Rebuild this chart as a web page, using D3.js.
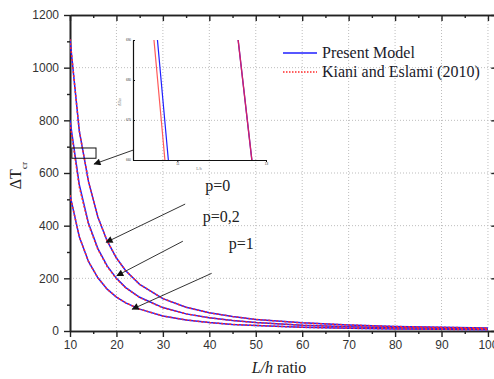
<!DOCTYPE html>
<html>
<head>
<meta charset="utf-8">
<script src="https://cdn.jsdelivr.net/npm/d3@7"></script>
<style>
    body { margin: 0; background: #fff; }
    svg { display: block; }
    .tick text { font-family: "Liberation Sans", Arial, sans-serif; fill: #333; }
</style>
</head>
<body>
<svg id="SVG_CONTAINER_Buckling" width="494" height="379"></svg>
<script>
// L/h ratio samples and critical temperature difference for each gradient index p
const lhRatio   = [10, 12, 14, 16, 18, 20, 22, 25, 30, 35, 40, 45, 50, 60, 70, 80, 90, 100];
const presentP0 = [1108, 760, 566, 433, 342, 277, 229, 177, 123, 90, 69, 55, 44, 31, 23, 17, 14, 11];
const kianiP0   = [1108, 760, 566, 433, 342, 277, 229, 177, 123, 90, 69, 55, 44, 31, 23, 17, 14, 11];
const presentP02 = [800, 556, 408, 313, 247, 200, 165, 128, 89, 65, 50, 40, 32, 22, 16, 12.5, 10, 8];
const kianiP02   = [790, 547, 404, 310, 245, 198, 164, 127, 88, 65, 50, 40, 32, 22, 16, 12.5, 10, 8];
const presentP1 = [516, 358, 263, 202, 159, 129, 107, 83, 57, 42, 32, 25, 21, 14, 10.5, 8, 6.4, 5.2];
const kianiP1   = [516, 358, 263, 202, 159, 129, 107, 83, 57, 42, 32, 25, 21, 14, 10.5, 8, 6.4, 5.2];

const xTicks = [10, 20, 30, 40, 50, 60, 70, 80, 90, 100];
const yTicks = [0, 200, 400, 600, 800, 1000, 1200];
const seriesNames = ["Present Model", "Kiani and Eslami (2010)"];

// annotations, in data units
const pLabels = [
    {text: "p=0", x: 39.1, y: 532},
    {text: "p=0,2", x: 38.6, y: 414},
    {text: "p=1", x: 44.2, y: 311}
];
const pArrows = [
    {from: [34.8, 482], to: [17.8, 337]},
    {from: [34.3, 341], to: [20.1, 210]},
    {from: [40.5, 219], to: [23.4, 83]},
    {from: [23.6, 687], to: [15.2, 634]}
];
const zoomBox = {x: [10.4, 15.6], y: [656, 695]};
const insetX = [10.35, 13.35];
const insetY = [660, 690];

const width = 494, height = 379;
const MARGIN = {LEFT: 70, TOP: 15, BOTTOM: 48};

let svg = d3.select("#SVG_CONTAINER_Buckling");
let chart = svg.append("g").attr("class", "chart");

//** SCALES *****************************************
let xScale = d3.scaleLinear()
    .domain([10, 102])
    .range([MARGIN.LEFT, MARGIN.LEFT + 92 * 4.644]);

let yScale = d3.scaleLinear()
    .domain([0, 1200])
    .range([height - MARGIN.BOTTOM, MARGIN.TOP]);

let x0 = xScale.range()[0], x1 = xScale.range()[1];
let y0 = yScale.range()[0], y1 = yScale.range()[1];

//** GRID *****************************************
chart.append("g")
    .selectAll("line")
    .data(xTicks.slice(1))
    .enter()
    .append("line")
    .attr("x1", d => xScale(d)).attr("x2", d => xScale(d))
    .attr("y1", y0).attr("y2", y1)
    .attr("stroke", "#bdbdbd")
    .attr("stroke-dasharray", "1,2");

chart.append("g")
    .selectAll("line")
    .data(yTicks.slice(1, -1))
    .enter()
    .append("line")
    .attr("x1", x0).attr("x2", x1)
    .attr("y1", d => yScale(d)).attr("y2", d => yScale(d))
    .attr("stroke", "#bdbdbd")
    .attr("stroke-dasharray", "1,2");

//** AXES *****************************************
let xMinor = d3.range(15, 100, 10);
let yMinor = d3.range(100, 1200, 200);

function drawAxis(axisGen, transform, labels)
{
    let g = chart.append("g")
        .attr("transform", transform)
        .call(axisGen);
    g.select(".domain").attr("stroke", "#222").attr("stroke-width", 1.6);
    g.selectAll(".tick line").attr("stroke", "#222").attr("stroke-width", 1.4);
    if(!labels) g.selectAll(".tick text").remove();
    g.selectAll(".tick text").attr("font-size", "12px");
    return g;
}

drawAxis(d3.axisBottom(xScale).tickValues(xTicks).tickSize(6).tickPadding(3).tickSizeOuter(0).tickFormat(d3.format("d")),
    "translate(0," + y0 + ")", true);
drawAxis(d3.axisBottom(xScale).tickValues(xMinor).tickSize(3).tickSizeOuter(0),
    "translate(0," + y0 + ")", false);
drawAxis(d3.axisLeft(yScale).tickValues(yTicks).tickSize(6).tickPadding(5).tickSizeOuter(0).tickFormat(d3.format("d")),
    "translate(" + x0 + ",0)", true);
drawAxis(d3.axisLeft(yScale).tickValues(yMinor).tickSize(3).tickSizeOuter(0),
    "translate(" + x0 + ",0)", false);
drawAxis(d3.axisBottom(xScale).tickValues(xTicks).tickSize(6).tickSizeOuter(0),
    "translate(0," + y1 + ")", false);
drawAxis(d3.axisBottom(xScale).tickValues(xMinor).tickSize(3).tickSizeOuter(0),
    "translate(0," + y1 + ")", false);
drawAxis(d3.axisLeft(yScale).tickValues(yTicks).tickSize(6).tickSizeOuter(0),
    "translate(" + x1 + ",0)", false);
drawAxis(d3.axisLeft(yScale).tickValues(yMinor).tickSize(3).tickSizeOuter(0),
    "translate(" + x1 + ",0)", false);

//axis labels
let xLabel = chart.append("text")
    .attr("x", (xScale(10) + xScale(100)) / 2)
    .attr("y", 373)
    .attr("text-anchor", "middle")
    .attr("font-family", "Liberation Serif, serif")
    .attr("font-size", "16px")
    .attr("fill", "#222");
xLabel.append("tspan").attr("font-style", "italic").text("L/h");
xLabel.append("tspan").text(" ratio");

//rotated y label, reads bottom to top (group carries the rotation)
let yLabelGroup = chart.append("g")
    .attr("transform", "translate(21," + yScale(590) + ") rotate(-90)");
let yLabel = yLabelGroup.append("text")
    .attr("x", 0)
    .attr("y", 0)
    .attr("text-anchor", "middle")
    .attr("font-family", "Liberation Serif, serif")
    .attr("font-size", "16px")
    .attr("fill", "#222");
yLabel.append("tspan").text("ΔT");
yLabel.append("tspan").attr("font-size", "9px").attr("dy", 6).text("cr");

//** CURVES *****************************************
let presentSeries = [presentP0, presentP02, presentP1];
let kianiSeries = [kianiP0, kianiP02, kianiP1];

function drawSeries(group, xs, ys, series, style)
{
    let line = d3.line()
        .x((d, i) => xs(lhRatio[i]))
        .y(d => ys(d));
    group.selectAll("path." + style)
        .data(series)
        .enter()
        .append("path")
        .attr("class", style)
        .attr("d", d => line(d))
        .attr("fill", "none")
        .attr("stroke", style === "present" ? "#1f1fff" : "#ff2a2a")
        .attr("stroke-width", 1.5)
        .attr("stroke-dasharray", style === "present" ? null : "2,2");
}

svg.append("clipPath").attr("id", "mainClip")
    .append("rect")
    .attr("x", x0).attr("y", y1)
    .attr("width", x1 - x0).attr("height", y0 - y1);

let curves = chart.append("g").attr("clip-path", "url(#mainClip)");
drawSeries(curves, xScale, yScale, presentSeries, "present");
drawSeries(curves, xScale, yScale, kianiSeries, "kiani");

//** ANNOTATIONS *****************************************
svg.append("defs").append("marker")
    .attr("id", "arrowHead")
    .attr("viewBox", "0 0 10 10")
    .attr("refX", 9).attr("refY", 5)
    .attr("markerWidth", 9).attr("markerHeight", 7)
    .attr("markerUnits", "userSpaceOnUse")
    .attr("orient", "auto")
    .append("path")
    .attr("d", "M0,0 L10,5 L0,10 Z")
    .attr("fill", "#111");

chart.append("g")
    .selectAll("line")
    .data(pArrows)
    .enter()
    .append("line")
    .attr("x1", d => xScale(d.from[0])).attr("y1", d => yScale(d.from[1]))
    .attr("x2", d => xScale(d.to[0])).attr("y2", d => yScale(d.to[1]))
    .attr("stroke", "#333")
    .attr("stroke-width", 1)
    .attr("marker-end", "url(#arrowHead)");

chart.append("g")
    .selectAll("text")
    .data(pLabels)
    .enter()
    .append("text")
    .attr("x", d => xScale(d.x))
    .attr("y", d => yScale(d.y))
    .attr("font-family", "Liberation Serif, serif")
    .attr("font-size", "16px")
    .attr("fill", "#222")
    .text(d => d.text);

chart.append("rect")
    .attr("x", xScale(zoomBox.x[0]))
    .attr("y", yScale(zoomBox.y[1]))
    .attr("width", xScale(zoomBox.x[1]) - xScale(zoomBox.x[0]))
    .attr("height", yScale(zoomBox.y[0]) - yScale(zoomBox.y[1]))
    .attr("fill", "none")
    .attr("stroke", "#111")
    .attr("stroke-width", 1);

//** INSET *****************************************
let insetXScale = d3.scaleLinear().domain(insetX).range([133, 266]);
let insetYScale = d3.scaleLinear().domain(insetY).range([160, 40]);

let inset = chart.append("g").attr("class", "inset");

svg.append("clipPath").attr("id", "insetClip")
    .append("rect")
    .attr("x", 133).attr("y", 40)
    .attr("width", 133).attr("height", 120);

let insetCurves = inset.append("g").attr("clip-path", "url(#insetClip)");
drawSeries(insetCurves, insetXScale, insetYScale, presentSeries, "present");
insetCurves.selectAll("path.present").attr("stroke-width", 1.2);
drawSeries(insetCurves, insetXScale, insetYScale, [kianiP02], "kiani");
insetCurves.selectAll("path.kiani").attr("stroke-dasharray", null).attr("stroke", "#ff5a5a").attr("stroke-width", 1.2);
drawSeries(insetCurves, insetXScale, insetYScale, [kianiP0], "kiani0");
insetCurves.selectAll("path.kiani0").attr("stroke", "#d0206a").attr("stroke-dasharray", null).attr("stroke-width", 1.4);

let insetXAxis = inset.append("g")
    .attr("transform", "translate(0,160)")
    .call(d3.axisBottom(insetXScale).tickValues([11.35, 13.35]).tickSize(2).tickSizeOuter(0).tickPadding(1).tickFormat(d3.format(".0f")));
let insetYAxis = inset.append("g")
    .attr("transform", "translate(133,0)")
    .call(d3.axisRight(insetYScale).tickValues([660, 670, 680, 690]).tickSize(2).tickSizeOuter(0).tickPadding(-9));
[insetXAxis, insetYAxis].forEach(g =>
{
    g.select(".domain").attr("stroke", "#111").attr("stroke-width", 1.2);
    g.selectAll(".tick line").attr("stroke", "#111");
    g.selectAll(".tick text").attr("font-size", "3px").attr("fill", "#777");
});

inset.append("text")
    .attr("x", 199).attr("y", 170)
    .attr("text-anchor", "middle")
    .attr("font-size", "4px")
    .attr("fill", "#777")
    .text("L/h");

inset.append("g")
    .attr("transform", "translate(121,102) rotate(-90)")
    .append("text")
    .attr("text-anchor", "middle")
    .attr("font-size", "4px")
    .attr("fill", "#777")
    .text("ΔTcr");

//** LEGEND *****************************************
let legend = chart.append("g").attr("class", "legend");
let legendRows = seriesNames.map((name, i) => ({name: name, row: i}));

legend.selectAll("line")
    .data(legendRows)
    .enter()
    .append("line")
    .attr("x1", 283).attr("x2", 317)
    .attr("y1", d => 53 + d.row * 19).attr("y2", d => 53 + d.row * 19)
    .attr("stroke", d => d.row === 0 ? "#1f1fff" : "#ff2a2a")
    .attr("stroke-width", 1.3)
    .attr("stroke-dasharray", d => d.row === 0 ? null : "1.5,1.5");

legend.selectAll("text")
    .data(legendRows)
    .enter()
    .append("text")
    .attr("x", 322)
    .attr("y", d => 58 + d.row * 19)
    .attr("font-family", "Liberation Serif, serif")
    .attr("font-size", "16px")
    .attr("fill", "#1a1a2a")
    .text(d => d.name);
</script>
</body>
</html>
